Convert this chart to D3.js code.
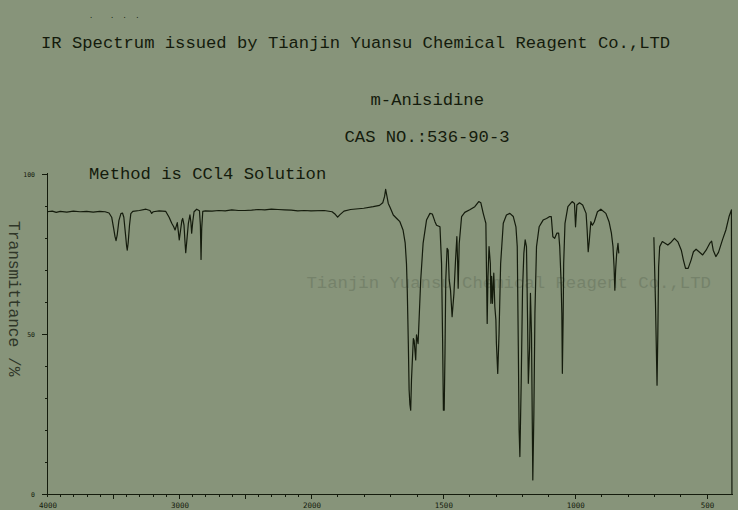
<!DOCTYPE html>
<html>
<head>
<meta charset="utf-8">
<script src="https://cdn.jsdelivr.net/npm/d3@7"></script>
<style>
  html, body { margin: 0; padding: 0; background: #87947a; }
  svg { display: block; }
</style>
</head>
<body>
<svg id="chart" width="738" height="510"></svg>
<script>
// ---- data ----
const titleText = "IR Spectrum issued by Tianjin Yuansu Chemical Reagent Co.,LTD";
const compoundName = "m-Anisidine";
const casText = "CAS NO.:536-90-3";
const methodText = "Method is CCl4 Solution";
const watermarkText = "Tianjin Yuansu Chemical Reagent Co.,LTD";
const yAxisTitle = "Transmittance /%";

const xTickLabels = [4000, 3000, 2000, 1500, 1000, 500];
const yTickLabels = [0, 50, 100];

const wavenumber = [
  4000, 3960, 3930, 3900, 3850, 3800, 3750, 3700, 3650, 3600, 3560, 3530, 3510, 3495, 3485, 3477, 3468, 3455, 3440, 3428,
  3418, 3405, 3397, 3392, 3385, 3375, 3365, 3350, 3300, 3250, 3220, 3207, 3195, 3150, 3100, 3075, 3055, 3040, 3030, 3020,
  3013, 3005, 2998, 2988, 2978, 2972, 2962, 2955, 2949, 2940, 2929, 2917, 2910, 2904, 2896, 2886, 2866, 2845, 2838, 2833,
  2828, 2820, 2800, 2750, 2700, 2650, 2600, 2550, 2500, 2450, 2400, 2350, 2300, 2250, 2200, 2150, 2100, 2050, 2000, 1950,
  1920, 1908, 1899, 1890, 1875, 1850, 1800, 1764, 1740, 1728, 1721, 1717, 1713, 1707, 1700, 1688, 1675, 1663, 1651, 1643,
  1638, 1635, 1631, 1628, 1625, 1622, 1619, 1612, 1609, 1603, 1600, 1594, 1591, 1584, 1575, 1562, 1549, 1540, 1530, 1524,
  1511, 1505, 1501, 1498, 1495, 1492, 1489, 1484, 1480, 1476, 1471, 1465, 1458, 1452, 1447, 1444, 1442, 1438, 1429, 1417,
  1398, 1379, 1364, 1356, 1347, 1340, 1337, 1335, 1332, 1329, 1325, 1320, 1318, 1315, 1312, 1307, 1303, 1299, 1297, 1292,
  1287, 1281, 1271, 1259, 1246, 1233, 1223, 1218, 1214, 1211, 1208, 1203, 1198, 1193, 1188, 1183, 1179, 1176, 1171, 1168,
  1164, 1161, 1159, 1155, 1151, 1145, 1135, 1120, 1107, 1095, 1089, 1083, 1076, 1068, 1061, 1057, 1052, 1049, 1047, 1044,
  1042, 1037, 1026, 1010, 1001, 997, 992, 982, 970, 957, 953, 949, 945, 939, 933, 926, 914, 901, 882, 870,
  861, 855, 851, 848, 845, 841, 836, 833, 760, 700, 694, 688, 685, 682, 678, 668, 656, 647, 637, 622,
  609, 596, 588, 580, 570, 559, 550, 540, 530, 515, 502, 487, 481, 475, 465, 455, 440, 427, 415, 406,
  404
];
const transmittance = [
  88.2, 88.4, 88.0, 88.3, 88.1, 88.4, 88.2, 88.3, 88.1, 88.3, 88.2, 87.8, 86.5, 83, 80.5, 79.2, 81, 85.5, 87.6, 87.8,
  86.5, 81, 77.5, 76.2, 78.5, 84, 87.6, 88.3, 88.6, 89.0, 88.6, 87.7, 88.2, 88.5, 88.3, 86.5, 84.6, 83.5, 82.5, 83.8,
  84.8, 82, 79.4, 82.5, 85.5, 86.1, 84, 79, 75.4, 79.5, 84.6, 87.2, 85, 81.5, 85, 88.2, 89, 88.5, 84, 73.3,
  83, 88.3, 88.5, 88.4, 88.6, 88.5, 88.8, 88.6, 88.6, 88.7, 88.9, 88.8, 89.0, 88.9, 88.8, 88.7, 88.5, 88.6, 88.5, 88.6,
  88.2, 87.4, 86.5, 87.3, 88.4, 88.9, 89.3, 89.8, 90.2, 91, 93, 95.2, 93.5, 90.8, 89.5, 87.2, 86.1, 85.1, 82.5, 78.5,
  72, 63.7, 47, 32.5, 28, 26.2, 35.6, 48.6, 48, 41.9, 49.7, 47, 53, 66.9, 78.3, 85.6, 87.7, 87.5, 85.1, 84,
  83.5, 72, 48.1, 26.2, 26.2, 44, 67, 76.8, 76.2, 66.9, 63.7, 55.4, 62.7, 73.1, 80.4, 72, 64.3, 78.3, 86.7, 88,
  88.8, 89.8, 91.4, 91, 87.7, 85.5, 84.6, 72, 53.3, 68, 77.3, 72, 59.6, 68, 59.6, 69, 58.5, 54.4, 47, 37.7,
  50.2, 72, 84.6, 87.2, 87.7, 86.7, 83.5, 77.3, 46, 20, 11.7, 35, 63.7, 75.2, 79.4, 77.3, 55, 34.6, 46, 62.7,
  50, 22, 4.4, 25, 56.5, 77.3, 83.5, 85.6, 86.1, 86.7, 86.7, 80.4, 79.9, 81.5, 81.5, 77.3, 66.9, 56.5, 37.7, 55,
  72, 84.6, 89.8, 91.4, 90.8, 83.5, 90.3, 91, 90.3, 87.7, 82.5, 75.7, 79, 85.1, 84, 85, 88.2, 89, 87.7, 85.1,
  81.5, 77.3, 71, 63.7, 70, 75.2, 78.3, 75.2, null, 80.2, 60, 34, 50, 71, 77.3, 78.9, 78.3, 77.8, 78.5, 79.9,
  78.8, 76.2, 73.1, 70.5, 70.5, 73.1, 75.7, 76.5, 75.8, 74.7, 76.2, 78.5, 79, 76.2, 74.2, 75.5, 79.4, 82.5, 86.7, 88.8,
  0
];

// ---- drawing ----
const svg = d3.select("#chart");
const ink = "#141b0c";
const mono = "'Liberation Mono', 'DejaVu Sans Mono', monospace";

const x = d3.scaleLinear().domain([4000, 2000, 400]).range([47, 311, 733]);
const y = d3.scaleLinear().domain([0, 100]).range([494, 174]);

// background
svg.append("rect").attr("width", 738).attr("height", 510).attr("fill", "#87947a");

// small dots at top
svg.append("text").attr("x", 89).attr("y", 18)
  .attr("font-family", mono).attr("font-size", 7).attr("fill", ink)
  .style("white-space", "pre").text(".    .  .  .");

// header texts
const headers = [
  { t: titleText, x: 41, y: 48, s: 17.2 },
  { t: compoundName, x: 370.5, y: 105, s: 17.2 },
  { t: casText, x: 344.5, y: 141.5, s: 17.2 },
  { t: methodText, x: 89, y: 178.5, s: 17.2 }
];
svg.selectAll("text.hdr").data(headers).join("text")
  .attr("class", "hdr")
  .attr("x", d => d.x).attr("y", d => d.y)
  .attr("font-family", mono).attr("font-size", d => d.s)
  .attr("fill", ink)
  .style("white-space", "pre")
  .text(d => d.t);

// watermark
svg.append("text").attr("x", 306.5).attr("y", 288)
  .attr("font-family", mono).attr("font-size", 17.3)
  .attr("fill", "#75826a")
  .style("white-space", "pre")
  .text(watermarkText);

// y axis title (rotated)
svg.append("text")
  .attr("transform", "translate(9,221) rotate(90)")
  .attr("font-family", mono).attr("font-size", 16.2)
  .attr("fill", "#2f3628")
  .style("white-space", "pre")
  .text(yAxisTitle);

// axes lines
const axisG = svg.append("g").attr("stroke", ink).attr("stroke-width", 1).attr("fill", "none")
  .attr("shape-rendering", "crispEdges");
axisG.append("line").attr("x1", 47.5).attr("x2", 47.5).attr("y1", 172.5).attr("y2", y(0) + 0.5);
axisG.append("line").attr("x1", 47).attr("x2", x(400)).attr("y1", y(0) + 0.5).attr("y2", y(0) + 0.5);

// y ticks
const yTicks = d3.range(0, 101, 10);
axisG.selectAll("line.yt").data(yTicks).join("line")
  .attr("class", "yt")
  .attr("x1", d => (d % 50 === 0 ? 42 : 44.5)).attr("x2", 47.5)
  .attr("y1", d => Math.round(y(d)) + 0.5).attr("y2", d => Math.round(y(d)) + 0.5);

svg.selectAll("text.yl").data(yTickLabels).join("text")
  .attr("class", "yl")
  .attr("x", 35).attr("y", d => y(d) + 2.5)
  .attr("text-anchor", "end")
  .attr("font-family", "'DejaVu Sans Mono', monospace").attr("font-size", 6.5)
  .attr("fill", ink)
  .text(d => d);

// x ticks
const xTicks = d3.range(4000, 499, -100);
axisG.selectAll("line.xt").data(xTicks).join("line")
  .attr("class", "xt")
  .attr("x1", d => Math.round(x(d)) + 0.5).attr("x2", d => Math.round(x(d)) + 0.5)
  .attr("y1", y(0) + 0.5)
  .attr("y2", d => y(0) + (d % 500 === 0 && d !== 4000 ? 5 : 2.5));

svg.selectAll("text.xl").data(xTickLabels).join("text")
  .attr("class", "xl")
  .attr("x", d => x(d) + 1).attr("y", 507.5)
  .attr("text-anchor", "middle")
  .attr("font-family", "'DejaVu Sans Mono', monospace").attr("font-size", 7.5)
  .attr("fill", ink)
  .text(d => d);

// spectrum
const points = wavenumber.map((w, i) => ({ w, t: transmittance[i] }));
const line = d3.line()
  .defined(d => d.t !== null)
  .x(d => x(d.w))
  .y(d => y(d.t));
svg.append("path")
  .datum(points)
  .attr("d", line)
  .attr("fill", "none")
  .attr("stroke", ink)
  .attr("stroke-width", 1.2)
  .attr("stroke-linejoin", "round");
</script>
</body>
</html>
